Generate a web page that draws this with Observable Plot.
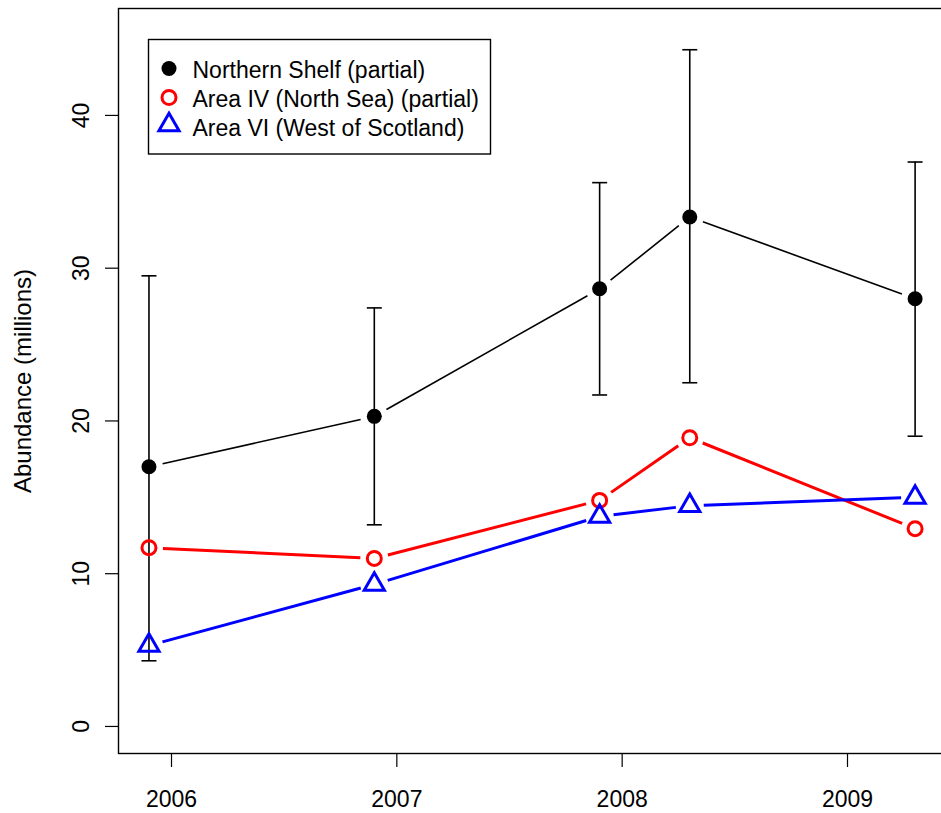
<!DOCTYPE html>
<html><head><meta charset="utf-8">
<script src="https://cdn.jsdelivr.net/npm/d3@7"></script>
<script src="https://cdn.jsdelivr.net/npm/@observablehq/plot@0.6"></script>
<style>
body{margin:0;background:#fff;}
#wrap{position:relative;width:941px;height:813px;font-family:"Liberation Sans",Arial,sans-serif;}
#legend{position:absolute;left:0;top:0;}
</style>
</head><body><div id="wrap"></div>
<script>
const years = [2005.9, 2006.9, 2007.9, 2008.3, 2009.3];
const northernShelf = [17.0, 20.3, 28.65, 33.35, 28.0];
const northernLow = [4.3, 13.2, 21.7, 22.5, 19.0];
const northernHigh = [29.5, 27.4, 35.6, 44.3, 36.95];
const areaIV = [11.7, 11.0, 14.8, 18.9, 12.95];
const areaVI = [5.3, 9.3, 13.75, 14.45, 15.0];
const xTicks = [2006, 2007, 2008, 2009];
const yTicks = [0, 10, 20, 30, 40];
const seriesNames = ["Northern Shelf (partial)", "Area IV (North Sea) (partial)", "Area VI (West of Scotland)"];
const seriesColors = ["black", "red", "blue"];
const yLabel = "Abundance (millions)";

const FONT = '"Liberation Sans", Arial, sans-serif';

const series = [
  {name: seriesNames[0], color: seriesColors[0], values: northernShelf, symbol: "circle", fill: seriesColors[0], lw: 1.6, sw: 0, r: 7.5},
  {name: seriesNames[1], color: seriesColors[1], values: areaIV, symbol: "circle", fill: "none", lw: 3, sw: 3, r: 7},
  {name: seriesNames[2], color: seriesColors[2], values: areaVI, symbol: "triangle", fill: "none", lw: 3, sw: 3, r: 7.5}
];

const errRows = years.map((x, i) => ({x, lo: northernLow[i], hi: northernHigh[i]}));

const capSymbol = {
  draw(context, size) {
    const r = Math.sqrt(size / Math.PI);
    context.moveTo(-r, 0);
    context.lineTo(r, 0);
  }
};

const marks = [
  Plot.frame({stroke: "black", strokeWidth: 1.4}),
  Plot.axisX({ticks: xTicks, tickSize: 14, tickPadding: 23, fontSize: 23, tickFormat: d => String(d), label: null, strokeWidth: 1.2}),
  Plot.axisY({ticks: yTicks, tickSize: 13, tickFormat: () => "", label: null, strokeWidth: 1.2}),
  Plot.text(yTicks, {y: d => d, text: d => String(d), frameAnchor: "left", dx: -30, rotate: -90, lineAnchor: "bottom", textAnchor: "middle", fontSize: 23, fill: "black"}),
  Plot.text([yLabel], {text: d => d, frameAnchor: "left", dx: -104.5, rotate: -90, lineAnchor: "top", textAnchor: "middle", fontSize: 24, fill: "black"}),
  // error bars
  Plot.ruleX(errRows, {x: "x", y1: "lo", y2: "hi", stroke: "black", strokeWidth: 1.6}),
  Plot.dot(errRows, {x: "x", y: "lo", symbol: capSymbol, r: 7.5, stroke: "black", fill: "none", strokeWidth: 1.6}),
  Plot.dot(errRows, {x: "x", y: "hi", symbol: capSymbol, r: 7.5, stroke: "black", fill: "none", strokeWidth: 1.6})
];

for (const s of series) {
  const pts = years.map((x, i) => ({x, y: s.values[i]}));
  const segs = d3.pairs(pts).map(([a, b]) => ({x1: a.x, y1: a.y, x2: b.x, y2: b.y}));
  marks.push(Plot.arrow(segs, {x1: "x1", y1: "y1", x2: "x2", y2: "y2", stroke: s.color, strokeWidth: s.lw, headLength: 0, inset: 14, strokeLinecap: "butt"}));
  marks.push(Plot.dot(pts, {x: "x", y: "y", symbol: s.symbol, r: s.r, fill: s.fill, stroke: s.color, strokeWidth: s.sw}));
}

const chart = Plot.plot({
  width: 941,
  height: 813,
  marginLeft: 118,
  marginRight: -1,
  marginTop: 8,
  marginBottom: 60,
  style: {fontFamily: FONT, background: "white", color: "black"},
  x: {domain: [2005.7648, 2009.4216]},
  y: {domain: [-1.77, 47.0]},
  marks
});
document.getElementById("wrap").appendChild(chart);

// legend (drawn over the plot, like R's legend())
const lg = d3.create("svg").attr("id", "legend").attr("width", 941).attr("height", 813)
  .style("font-family", FONT);
lg.append("rect").attr("x", 148.5).attr("y", 39.5).attr("width", 342).attr("height", 114.5)
  .attr("fill", "white").attr("stroke", "black").attr("stroke-width", 1.4);
const rowBase = [77.5, 107, 136];
const symY = [68.5, 97.5, 125];
series.forEach((s, i) => {
  const g = lg.append("g");
  const path = d3.symbol(s.symbol === "triangle" ? d3.symbolTriangle : d3.symbolCircle, Math.PI * s.r * s.r)();
  g.append("path").attr("d", path).attr("transform", `translate(169,${symY[i]})`)
    .attr("fill", s.fill).attr("stroke", s.color).attr("stroke-width", s.sw);
  g.append("text").attr("x", 192.5).attr("y", rowBase[i]).attr("font-size", 23).text(s.name);
});
document.getElementById("wrap").appendChild(lg.node());
</script>
</body></html>
